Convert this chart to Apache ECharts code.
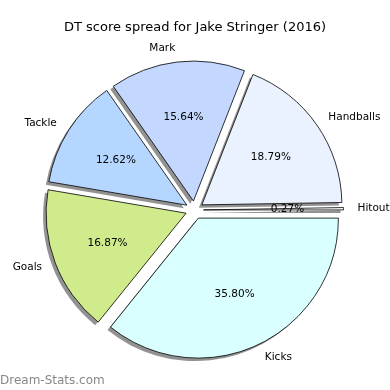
<!DOCTYPE html>
<html><head><meta charset="utf-8">
<script src="https://cdn.jsdelivr.net/npm/echarts@6/dist/echarts.min.js"></script>
<style>html,body{margin:0;padding:0;background:#fff}#c{width:390px;height:390px}</style>
</head><body><div id="c"></div>
<script>
const categories = ['Hitout', 'Handballs', 'Mark', 'Tackle', 'Goals', 'Kicks'];
const percents = [0.27, 18.79, 15.64, 12.62, 16.87, 35.80];
const colors = ['#ffffff', '#ebf2ff', '#c4d8ff', '#b4d6ff', '#d0eb8c', '#d9ffff'];

const chart = echarts.init(document.getElementById('c'), null, {renderer: 'canvas'});
const font = 'DejaVu Sans';
const R = 140, EXPL = 9, CX = 194.5, CY = 210;

const mkData = (withColor) => categories.map((n, i) => {
  const d = {name: n, value: percents[i], selected: true};
  if (withColor) d.itemStyle = {color: colors[i]};
  return d;
});

const common = {
  type: 'pie', startAngle: 0, clockwise: false,
  selectedMode: 'multiple', selectedOffset: EXPL,
  avoidLabelOverlap: false, silent: true,
  emphasis: {disabled: true}, labelLine: {show: false}
};

chart.setOption({
  animation: false,
  title: [{
    text: 'DT score spread for Jake Stringer (2016)',
    left: 'center', top: 16,
    textStyle: {fontFamily: font, fontSize: 13, fontWeight: 'normal', color: '#000'}
  }, {
    text: 'Dream-Stats.com', left: 0, top: 375, padding: 0,
    textStyle: {fontFamily: font, fontSize: 12, fontWeight: 'normal', color: '#888888'}
  }],
  series: [
    Object.assign({}, common, {
      name: 'shadow', z: 1,
      center: [CX - 3, CY + 3], radius: [0, R],
      itemStyle: {color: '#929292', borderWidth: 0},
      label: {show: false},
      data: mkData(false)
    }),
    Object.assign({}, common, {
      name: 'main', z: 2,
      center: [CX, CY], radius: [0, R],
      itemStyle: {borderColor: '#000', borderWidth: 0.8},
      label: {
        show: true, position: 'outside', padding: [7, 0, 0, 0],
        fontFamily: font, fontSize: 10.5, color: '#000',
        formatter: '{b}'
      },
      labelLine: {show: false, length: 14, length2: -5},
      data: mkData(true)
    }),
    Object.assign({}, common, {
      name: 'pct', z: 3,
      center: [CX, CY], radius: [0, 162],
      itemStyle: {color: 'rgba(0,0,0,0)', borderWidth: 0},
      label: {
        show: true, position: 'inside', padding: [9, 0, 0, 0],
        fontFamily: font, fontSize: 10.5, color: '#000',
        formatter: p => p.value.toFixed(2) + '%'
      },
      data: mkData(false)
    })
  ]
});
</script></body></html>
